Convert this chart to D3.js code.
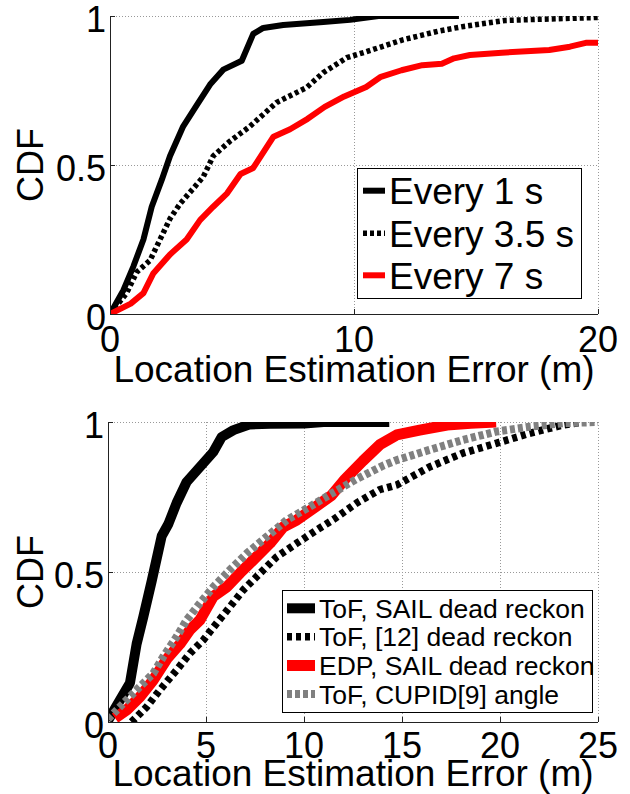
<!DOCTYPE html>
<html>
<head>
<meta charset="utf-8">
<script src="https://cdn.jsdelivr.net/npm/d3@7"></script>
<style>
  body { margin: 0; background: #fff; }
  svg { display: block; font-family: "Liberation Sans", Arial, Helvetica, sans-serif; }
</style>
</head>
<body>
<svg id="svg" width="630" height="794"></svg>
<script>
// top panel: update interval
var topNames = ["Every 1 s", "Every 3.5 s", "Every 7 s"];
var topEvery1 = [[0,0],[0.55,0.08],[0.96,0.16],[1.37,0.25],[1.71,0.36],[2.12,0.45],[2.46,0.53],[3.0,0.63],
  [3.55,0.70],[4.1,0.77],[4.64,0.82],[5.4,0.85],[5.87,0.94],[6.28,0.96],[7.1,0.97],[8.74,0.98],[9.84,0.987],
  [11,1],[14.3,1]];
var topEvery35 = [[0,0],[0.68,0.07],[1.09,0.14],[1.64,0.18],[2.05,0.25],[2.46,0.32],[2.87,0.37],[3.4,0.42],
  [3.82,0.46],[4.23,0.53],[4.92,0.58],[5.74,0.63],[6.83,0.71],[8.06,0.76],[8.74,0.81],[9.7,0.86],[10.5,0.88],
  [12,0.92],[13.5,0.95],[14.5,0.965],[16.2,0.985],[18,0.99],[20,0.995]];
var topEvery7 = [[0,0],[0.85,0.035],[1.37,0.07],[1.78,0.137],[2.46,0.2],[3.14,0.25],[3.69,0.315],[4.23,0.36],
  [4.8,0.405],[5.35,0.47],[5.87,0.49],[6.7,0.595],[7.38,0.62],[8.1,0.655],[8.8,0.695],[9.6,0.73],[10.5,0.762],
  [11.1,0.796],[11.95,0.818],[12.8,0.835],[13.6,0.84],[14.1,0.858],[14.75,0.869],[16.06,0.877],[18.0,0.886],
  [18.85,0.897],[19.5,0.91],[20,0.91]];
var topXTicks = [0, 10, 20];
var yTicks = [0, 0.5, 1];
var yTickLabels = ["0", "0.5", "1"];

// bottom panel: methods
var botNames = ["ToF, SAIL dead reckon", "ToF, [12] dead reckon", "EDP, SAIL dead reckon", "ToF, CUPID[9] angle"];
var botSail = [[0,0.005],[0.61,0.073],[1.12,0.13],[1.46,0.26],[1.8,0.35],[2.23,0.47],[2.74,0.62],[3.08,0.66],
  [3.5,0.73],[4.01,0.80],[4.69,0.85],[5.37,0.90],[5.8,0.95],[6.4,0.973],[7.24,0.992],[8.27,0.994],[10,0.995],
  [11,1],[14.35,1]];
var botRef12 = [[1.2,0],[1.97,0.05],[2.65,0.107],[3.5,0.173],[4.18,0.229],[4.86,0.273],[5.54,0.329],[6.22,0.384],
  [6.9,0.44],[7.76,0.496],[8.6,0.55],[9.63,0.596],[10.65,0.64],[11.5,0.675],[12.69,0.73],[13.88,0.775],
  [14.73,0.79],[16.4,0.85],[18.1,0.896],[19.8,0.929],[21.5,0.962],[23.2,0.99],[24.3,1]];
var botEdp = [[0.36,0.013],[0.95,0.04],[1.63,0.084],[2.31,0.14],[3.0,0.21],[3.67,0.26],[4.18,0.307],[4.69,0.34],
  [5.37,0.418],[6.06,0.45],[6.73,0.496],[7.41,0.54],[8.27,0.596],[8.94,0.65],[9.63,0.673],[10.65,0.72],
  [11.4,0.755],[12.1,0.81],[13.0,0.87],[13.88,0.925],[14.73,0.957],[15.9,0.973],[17.3,0.99],[18.5,0.996],[19.8,1]];
var botCupid = [[0,0.01],[0.78,0.062],[1.46,0.107],[2.31,0.162],[2.82,0.218],[3.5,0.284],[4.01,0.34],[4.69,0.396],
  [5.37,0.45],[6.22,0.507],[7.08,0.562],[8.1,0.618],[9.12,0.673],[10.3,0.718],[11.5,0.765],[12.69,0.81],
  [14.05,0.855],[14.73,0.873],[16.4,0.907],[18.1,0.94],[19.8,0.968],[21.5,0.984],[23.2,0.996],[25,1]];
var botXTicks = [0, 5, 10, 15, 20, 25];

var svg = d3.select("#svg");

drawPanel({
  id: "top", left: 110, right: 598, top: 16, bottom: 314, xMax: 20, xTicks: topXTicks,
  series: [
    {data: topEvery1, color: "#000", width: 6, dash: null},
    {data: topEvery35, color: "#000", width: 5.5, dash: "4,3"},
    {data: topEvery7, color: "#f00", width: 6, dash: null}
  ],
  names: topNames,
  legend: {x: 357, y: 168, w: 224, h: 130, lineX1: 363, lineX2: 385, textX: 389, rows: [190.7, 233.3, 275.3], font: 37, base: 13.2},
  tickBase: 38, titleBase: 382
});

drawPanel({
  id: "bot", left: 108, right: 598, top: 422, bottom: 722, xMax: 25, xTicks: botXTicks,
  series: [
    {data: botSail, color: "#000", width: 10, dash: null},
    {data: botRef12, color: "#000", width: 7.5, dash: "5,4"},
    {data: botEdp, color: "#f00", width: 11, dash: null},
    {data: botCupid, color: "#808080", width: 8, dash: "5,3"}
  ],
  names: botNames,
  legend: {x: 282, y: 590, w: 310, h: 122, lineX1: 287, lineX2: 315, textX: 319, rows: [608.3, 636.8, 665.5, 694], font: 26.5, base: 9.5},
  tickBase: 36, titleBase: 786
});

function drawPanel(cfg) {
  var x = d3.scaleLinear().domain([0, cfg.xMax]).range([cfg.left, cfg.right]);
  var y = d3.scaleLinear().domain([0, 1]).range([cfg.bottom, cfg.top]);
  var g = svg.append("g").attr("id", cfg.id);

  g.append("clipPath").attr("id", "clip-" + cfg.id)
    .append("rect")
    .attr("x", cfg.left).attr("y", cfg.top)
    .attr("width", cfg.right - cfg.left).attr("height", cfg.bottom - cfg.top);

  // dotted grid
  var grid = g.append("g").attr("stroke", "#999").attr("stroke-width", 1).attr("stroke-dasharray", "1,2");
  grid.selectAll(".gx").data(cfg.xTicks.slice(1)).enter().append("line")
    .attr("x1", function(d){return x(d) + 0.5;}).attr("x2", function(d){return x(d) + 0.5;})
    .attr("y1", cfg.top).attr("y2", cfg.bottom);
  grid.selectAll(".gy").data(yTicks.slice(1)).enter().append("line")
    .attr("y1", function(d){return y(d) + 0.5;}).attr("y2", function(d){return y(d) + 0.5;})
    .attr("x1", cfg.left).attr("x2", cfg.right);

  // curves
  var line = d3.line().x(function(d){return x(d[0]);}).y(function(d){return y(d[1]);});
  var curves = g.append("g").attr("clip-path", "url(#clip-" + cfg.id + ")");
  cfg.series.forEach(function(s) {
    curves.append("path")
      .attr("d", line(s.data))
      .attr("fill", "none")
      .attr("stroke", s.color)
      .attr("stroke-width", s.width)
      .attr("stroke-linejoin", "round")
      .attr("stroke-dasharray", s.dash);
  });

  // axes (left + bottom only, inward ticks)
  var ax = g.append("g").attr("stroke", "#222").attr("stroke-width", 1);
  ax.append("line").attr("x1", cfg.left + 0.5).attr("x2", cfg.left + 0.5).attr("y1", cfg.top).attr("y2", cfg.bottom);
  ax.append("line").attr("x1", cfg.left).attr("x2", cfg.right).attr("y1", cfg.bottom + 0.5).attr("y2", cfg.bottom + 0.5);
  ax.selectAll(".tx").data(cfg.xTicks).enter().append("line")
    .attr("x1", function(d){return x(d) + 0.5;}).attr("x2", function(d){return x(d) + 0.5;})
    .attr("y1", cfg.bottom).attr("y2", cfg.bottom - 5);
  ax.selectAll(".ty").data(yTicks).enter().append("line")
    .attr("y1", function(d){return y(d) + 0.5;}).attr("y2", function(d){return y(d) + 0.5;})
    .attr("x1", cfg.left).attr("x2", cfg.left + 5);

  // tick labels
  g.selectAll(".xl").data(cfg.xTicks).enter().append("text")
    .attr("x", function(d){return x(d);})
    .attr("y", cfg.bottom + cfg.tickBase)
    .attr("text-anchor", "middle")
    .attr("font-size", 36)
    .text(function(d){return d;});
  g.selectAll(".yl").data(yTicks).enter().append("text")
    .attr("x", cfg.left - 4)
    .attr("y", function(d){return y(d) + 16;})
    .attr("text-anchor", "end")
    .attr("font-size", 36)
    .text(function(d, i){return yTickLabels[i];});

  // axis titles
  g.append("text")
    .attr("x", (cfg.left + cfg.right) / 2)
    .attr("y", cfg.titleBase)
    .attr("text-anchor", "middle")
    .attr("font-size", 37)
    .text("Location Estimation Error (m)");
  g.append("text")
    .attr("transform", "translate(43," + ((cfg.top + cfg.bottom) / 2) + ") rotate(-90)")
    .attr("text-anchor", "middle")
    .attr("font-size", 36)
    .text("CDF");

  // legend
  var L = cfg.legend;
  g.append("rect")
    .attr("x", L.x + 0.5).attr("y", L.y + 0.5).attr("width", L.w).attr("height", L.h)
    .attr("fill", "#fff").attr("stroke", "#000").attr("stroke-width", 1);
  cfg.series.forEach(function(s, i) {
    g.append("line")
      .attr("x1", L.lineX1).attr("x2", L.lineX2)
      .attr("y1", L.rows[i]).attr("y2", L.rows[i])
      .attr("stroke", s.color).attr("stroke-width", s.width)
      .attr("stroke-dasharray", s.dash);
    g.append("text")
      .attr("x", L.textX).attr("y", L.rows[i] + L.base)
      .attr("font-size", L.font)
      .text(cfg.names[i]);
  });
}
</script>
</body>
</html>
